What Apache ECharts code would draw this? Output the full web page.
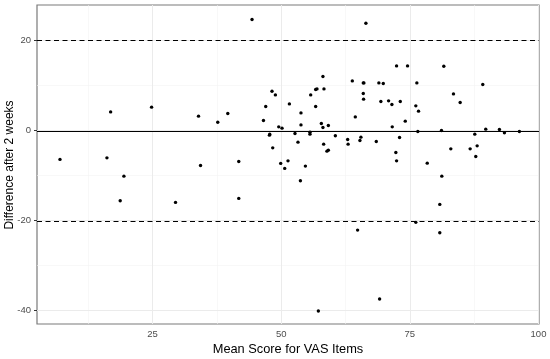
<!DOCTYPE html>
<html>
<head>
<meta charset="utf-8">
<script src="https://cdn.jsdelivr.net/npm/echarts@6/dist/echarts.min.js"></script>
<style>html,body{margin:0;padding:0;background:#fff}#c{width:550px;height:359px}</style>
</head>
<body>
<div id="c"></div>
<script>
// ---- data ----
const meanScore = [44.33,7.01,16.85,16.13,19.43,24.81,33.93,34.32,37.67,39.62,
  41.75,18.71,29.46,41.75,48.21,48.87,46.99,46.55,49.52,50.16,
  47.77,47.71,48.35,49.9,51.32,50.68,51.59,52.68,53.26,53.84,
  53.84,54.7,53.73,55.59,55.59,55.73,56.7,56.95,56.7,58.11,
  58.31,57.8,58.11,59.16,58.25,59.16,58.89,57.22,60.52,62.91,
  63.0,63.82,64.4,64.85,65.49,65.3,65.95,66.07,65.95,66.01,
  66.46,68.48,68.98,69.84,69.12,69.37,70.87,71.51,71.58,72.28,
  72.42,72.42,74.55,73.0,73.14,74.11,76.16,76.69,76.36,76.55,
  76.16,78.38,80.82,80.82,81.21,81.15,81.6,82.96,83.48,84.78,
  86.72,87.62,88.08,87.81,89.17,89.75,92.41,93.38,96.29];
const difference = [24.67,-6.44,4.13,-6.09,-10.16,5.18,3.18,-7.78,1.84,3.78,
  -6.89,-15.64,-16.0,-15.11,8.73,7.91,5.33,2.22,0.8,0.51,
  -0.82,-1.04,-3.87,-7.33,-6.76,-8.44,5.91,-0.67,-2.6,3.91,
  1.24,-7.93,-11.2,-0.38,-0.82,7.91,9.11,9.24,5.33,12.0,
  9.24,1.56,0.67,1.11,-3.04,-4.38,-4.6,-40.16,-1.16,-2.0,
  -3.04,11.02,3.02,-22.16,-1.49,-2.22,10.58,10.58,8.22,6.96,
  23.84,-2.44,10.58,10.44,-37.49,6.44,6.58,5.78,0.8,-4.89,
  -6.76,14.36,14.36,-1.56,6.44,2.07,5.47,4.29,10.58,-0.22,
  -20.44,-7.27,-16.44,-22.76,-10.16,0,14.29,-4.09,8.13,6.22,
  -4.09,-0.82,-3.42,-5.78,10.22,0.29,0.22,-0.53,-0.22];
const meanDiff = -0.1;
const upperLoA = 20.0;
const lowerLoA = -20.2;
const xTicks = [25, 50, 75, 100];
const xMinorTicks = [12.5, 37.5, 62.5, 87.5];
const yTicks = [-40, -20, 0, 20];
const yMinorTicks = [-30, -10, 10];
const xTitle = 'Mean Score for VAS Items';
const yTitle = 'Difference after 2 weeks';

// ---- chart ----
const chart = echarts.init(document.getElementById('c'), null, {renderer: 'canvas'});
const points = meanScore.map((x, i) => [x, difference[i]]);
const gridLines = [];
xMinorTicks.forEach(v => gridLines.push({xAxis: v, lineStyle: {color: '#f3f3f3', width: 0.6, type: 'solid'}}));
yMinorTicks.forEach(v => gridLines.push({yAxis: v, lineStyle: {color: '#f3f3f3', width: 0.6, type: 'solid'}}));
xTicks.forEach(v => gridLines.push({xAxis: v, lineStyle: {color: '#ebebeb', width: 1, type: 'solid'}}));
yTicks.forEach(v => gridLines.push({yAxis: v, lineStyle: {color: '#ebebeb', width: 1, type: 'solid'}}));

const labelStyle = {color: '#4d4d4d', fontFamily: 'Liberation Sans, Arial, sans-serif', fontSize: 9.5};

chart.setOption({
  animation: false,
  backgroundColor: '#fff',
  grid: {left: 37, right: 11, top: 5, bottom: 35, show: true, borderColor: '#7a7a7a', borderWidth: 1.2, backgroundColor: 'transparent', z: 0},
  xAxis: {
    type: 'value', min: 2.54, max: 100.1,
    axisLine: {show: false},
    splitLine: {show: false},
    axisTick: {show: true, customValues: xTicks, length: 3, lineStyle: {color: '#333'}},
    axisLabel: Object.assign({customValues: xTicks, margin: 5}, labelStyle)
  },
  yAxis: {
    type: 'value', min: -43.04, max: 27.9,
    axisLine: {show: false},
    splitLine: {show: false},
    axisTick: {show: true, customValues: yTicks, length: 3, lineStyle: {color: '#333'}},
    axisLabel: Object.assign({customValues: yTicks, margin: 6}, labelStyle)
  },
  graphic: [
    {type: 'text', x: 288, y: 349, style: {text: xTitle, align: 'center', verticalAlign: 'middle', fill: '#000', font: '12.8px Liberation Sans, Arial, sans-serif'}},
    {type: 'text', x: 9.5, y: 165, rotation: Math.PI / 2, style: {text: yTitle, align: 'center', verticalAlign: 'middle', fill: '#000', font: '12px Liberation Sans, Arial, sans-serif'}}
  ],
  series: [
    {
      type: 'scatter', data: [], silent: true, z: 1,
      markLine: {silent: true, z: 1, symbol: 'none', label: {show: false}, animation: false, data: gridLines}
    },
    {
      type: 'scatter', data: [], silent: true, z: 2,
      markLine: {silent: true, z: 2, symbol: 'none', label: {show: false}, animation: false,
        data: [
          {yAxis: meanDiff, lineStyle: {color: '#000', width: 1.1, type: 'solid'}},
          {yAxis: upperLoA, lineStyle: {color: '#000', width: 1, type: [5, 3.5]}},
          {yAxis: lowerLoA, lineStyle: {color: '#000', width: 1, type: [5, 3.5]}}
        ]}
    },
    {
      type: 'scatter', data: points, symbol: 'circle', symbolSize: 3.4, z: 10,
      itemStyle: {color: '#000', opacity: 1}
    }
  ]
});
</script>
</body>
</html>
